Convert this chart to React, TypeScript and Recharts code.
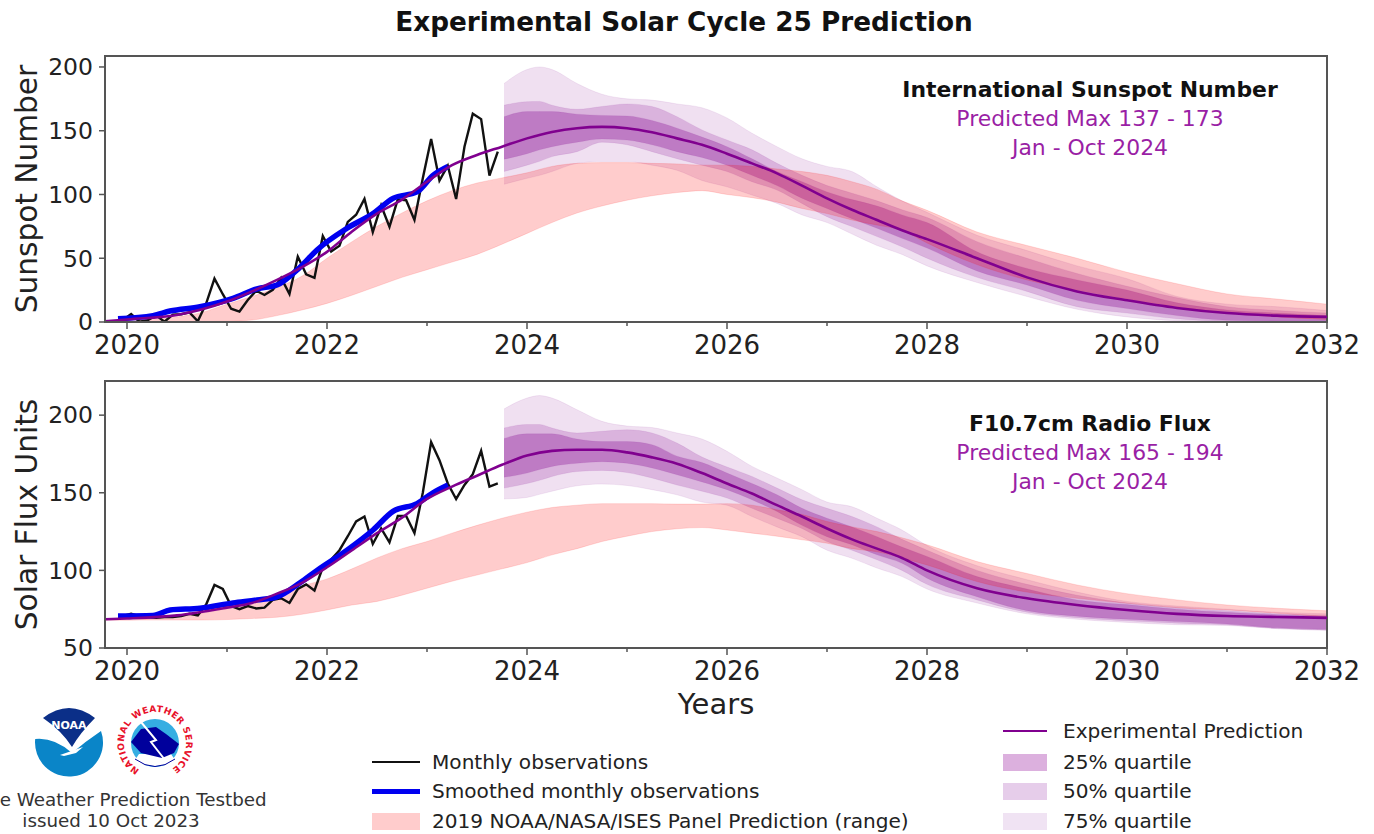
import { Area, ComposedChart, Line, ReferenceArea, XAxis, YAxis } from 'recharts'

const font = '"DejaVu Sans", sans-serif'
const purple = '#80008f'
const spine = '#555'

const xStart = 2019.78
const xEnd = 2032
const yearTicks = [2020, 2021, 2022, 2023, 2024, 2025, 2026, 2027, 2028, 2029, 2030, 2031, 2032]

// monthly observations, Dec 2019 to Sep 2023
const firstObsYear = 2019.958
const sunspotObs = [1.5, 6.2, 0.2, 1.5, 5.2, 0.2, 5.8, 6.1, 7.5, 0.6, 14.4, 34, 21.8, 10.4, 8.2, 17.2, 24.5, 21.2, 25.2, 34.6, 22, 51.3, 37.4, 34.7, 67.5, 55.3, 59.9, 78.5, 84.1, 96.5, 70.6, 91.4, 74.6, 96.2, 95.5, 80, 112.8, 143.6, 110.9, 122.6, 96.4, 137.4, 163.4, 159.1, 114.8, 133.6]
const fluxObs = [70.7, 72, 70.5, 70, 69.5, 70, 70, 70.5, 72, 71, 78, 90.6, 88, 77, 75, 77, 75.5, 76, 81, 82, 79, 88, 91, 87, 102, 107, 113, 122, 131.5, 134.7, 117, 127, 118, 135, 135, 124, 150, 182.6, 171, 156, 146, 155, 162, 177, 154, 156]

const smoothYears = [2019.91, 2020.26, 2020.43, 2020.73, 2021.06, 2021.3, 2021.5, 2021.73, 2021.9, 2022.2, 2022.46, 2022.66, 2022.9, 2023.06, 2023.21]
const sunspotSmooth = [2.6, 5, 8.6, 12, 18.6, 26, 29, 43, 56.5, 73.5, 85, 97, 102, 115, 122]
const fluxSmooth = [70.6, 71, 74.5, 75.6, 79, 81, 83, 92, 100, 113, 126, 138, 143, 150, 155]

const predYears = [2019.78, 2020, 2020.5, 2021, 2021.25, 2021.5, 2021.75, 2022, 2022.25, 2022.5, 2022.75, 2023, 2023.25, 2023.5, 2023.75, 2024, 2024.25, 2024.5, 2024.75, 2025, 2025.25, 2025.5, 2025.75, 2026, 2026.25, 2026.5, 2026.75, 2027, 2027.25, 2027.5, 2027.75, 2028, 2028.5, 2029, 2029.5, 2030, 2030.5, 2031, 2031.5, 2032]
const sunspotPred = [0.5, 2, 5.5, 16, 24, 33, 43, 55, 71, 85, 96, 110, 123, 131, 137.5, 144, 149, 152, 153, 152, 148.8, 144, 139, 132, 124.4, 116.6, 107, 97, 88, 80, 72, 65, 50, 35, 24, 17, 11, 7, 5, 4]
const fluxPred = [68.5, 69, 71, 76, 79, 85, 92, 102, 113, 124, 134, 146, 154, 161, 168, 174, 177, 177.7, 177.7, 176, 172.8, 168.7, 162.7, 156, 149.5, 142, 134.7, 127, 120, 114, 108, 100, 88.5, 82, 77.7, 74.5, 72, 70.6, 70, 69.4]

const panelYears = [2019.78, 2020, 2020.25, 2020.5, 2020.75, 2021, 2021.25, 2021.5, 2021.75, 2022, 2022.25, 2022.5, 2022.75, 2023, 2023.25, 2023.5, 2023.75, 2024, 2024.25, 2024.5, 2024.75, 2025, 2025.25, 2025.5, 2025.75, 2026, 2026.25, 2026.5, 2026.75, 2027, 2027.25, 2027.5, 2027.75, 2028, 2028.5, 2029, 2029.5, 2030, 2030.5, 2031, 2031.5, 2032]
const sunspotPanelHi = [0, 1, 2, 4, 7.5, 14, 20, 27, 36, 50, 63, 75, 85.5, 95, 103, 109, 113, 117, 122, 124.4, 125, 125, 124.4, 124, 123, 123, 122, 120, 118, 115, 110, 104, 95, 87.6, 70.6, 60, 50, 39, 30, 22, 18, 14]
const sunspotPanelLo = [0, 0, 0, 0, 0.3, 0.5, 1.5, 5, 9.4, 14.6, 21, 28, 35, 41, 47, 53, 61, 69.5, 78, 85.5, 91, 95.5, 99, 101.5, 103, 100, 97.5, 94, 89, 85, 80, 76, 72, 62, 45, 33, 25, 18, 12, 7, 4, 2]
const fluxPanelHi = [68, 68, 69, 70.5, 72.5, 75.5, 79, 84, 90, 94.5, 101, 108, 114, 118.6, 124, 129, 133.6, 137.5, 140.5, 142, 143, 143, 143, 142.7, 142.7, 143, 142, 139, 136, 131.5, 128, 125, 121, 116.5, 105.7, 98, 90.6, 85, 81, 77.7, 75.6, 74]
const fluxPanelLo = [68, 68, 68, 68, 68, 68.3, 69, 69.8, 71.7, 74.5, 77.7, 80, 84, 88.5, 93, 97, 101, 105, 110, 114, 118.6, 122, 125, 126.8, 127.6, 126, 124, 122, 119.7, 117.5, 114, 112, 108, 103.5, 92.8, 86, 82, 78.8, 76, 74.5, 72.4, 70]

const bandYears = [2023.77, 2024, 2024.125, 2024.25, 2024.5, 2024.75, 2025, 2025.25, 2025.5, 2025.75, 2026, 2026.25, 2026.5, 2026.75, 2027, 2027.25, 2027.5, 2027.75, 2028, 2028.5, 2029, 2029.5, 2030, 2030.5, 2031, 2031.5, 2032]
const sunspotQ75Hi = [187, 198, 200, 198, 187, 178.6, 175, 174, 171, 168, 160, 148, 137.5, 128, 122, 118, 106, 95, 86, 68, 56, 44, 34, 20, 14, 12, 9]
const sunspotQ75Lo = [108, 112.7, 115, 118, 124.4, 125.8, 125.8, 123, 119, 111, 106, 99.6, 93, 84, 78, 69, 60, 53, 44, 31, 20, 10, 4, 1, 0, 0, 0]
const sunspotQ50Hi = [170, 172.8, 173, 170, 166.8, 169, 171, 169, 161, 150.6, 142.7, 135, 124.4, 115, 107, 101, 95, 88, 82, 63, 50, 38, 28, 19, 12, 9, 7]
const sunspotQ50Lo = [118, 123, 126, 129.7, 133.6, 141, 139, 133.6, 128, 123, 118, 110, 103.5, 93, 82.6, 74.8, 67, 59, 50, 35, 24, 12, 7, 2.5, 0.5, 0.3, 0.3]
const sunspotQ25Hi = [161, 165, 165, 165, 163, 162, 161.6, 158, 152, 145, 137.5, 128, 118, 110, 102, 96, 91, 84, 78, 55, 42, 33, 25, 15, 9.5, 7, 5]
const sunspotQ25Lo = [127.6, 132, 135, 137.5, 141, 143.5, 142.7, 139, 133.6, 129, 123, 115, 107, 97, 89, 81, 73.5, 65.6, 58, 40, 29, 17, 10.5, 5, 1.3, 0.8, 0.8]
const fluxQ75Hi = [204, 211, 212.6, 211, 203.5, 196, 193, 192, 188.5, 184.6, 176.7, 167, 159.5, 152, 144, 141, 133.6, 126, 116, 103, 94, 86, 80, 77, 75, 73, 72]
const fluxQ75Lo = [146, 147, 149, 151, 154.5, 155.6, 154.7, 152, 148.7, 144, 142, 134.7, 128, 121.7, 113, 107.8, 101.5, 96, 88, 79, 72, 68.5, 66.5, 65, 64.5, 62.5, 61.5]
const fluxQ50Hi = [191.7, 194, 194, 191.7, 188.5, 189.6, 190.6, 188.5, 182, 173, 166.6, 160.5, 153, 145.5, 140, 134.7, 128, 120, 113, 100, 91, 84, 79, 76, 74, 72, 71]
const fluxQ50Lo = [153, 156, 158, 160.5, 163.7, 164.4, 163, 159.5, 155, 151, 146.6, 140, 133.6, 127, 118.6, 113, 106.8, 100, 91, 81, 73, 69.5, 67.5, 66, 65, 62.5, 61.5]
const fluxQ25Hi = [185, 188, 188, 188, 184.6, 183, 183, 181, 173.6, 169.5, 162.7, 156, 148.7, 140, 133.6, 128, 121.7, 115, 109, 96, 88, 81, 78, 75, 73, 71.5, 70.5]
const fluxQ25Lo = [160, 162.7, 165, 167, 169, 170, 169, 166, 161.6, 157, 152, 145.5, 138, 129, 121.7, 116.5, 110, 104.6, 95, 83, 74, 70.5, 68.5, 67, 65.5, 63, 62]

const points = (xs: number[], ys: number[]) => xs.map((x, i) => ({ x, y: ys[i] }))
const bands = (xs: number[], lo: number[], hi: number[]) => xs.map((x, i) => ({ x, range: [lo[i], hi[i]] }))
const monthly = (ys: number[]) => ys.map((y, i) => ({ x: firstObsYear + i / 12, y }))

const YearTick = ({ x, y, payload }: any) => {
  const major = payload.value % 2 === 0
  return (
    <g>
      <line x1={x} x2={x} y1={y} y2={y + (major ? 7 : 4)} stroke={spine} strokeWidth={1.5} />
      {major && (
        <text x={x} y={y + 32} textAnchor="middle" fontSize={26} fontFamily={font} fill="#222">
          {payload.value}
        </text>
      )}
    </g>
  )
}

type PanelProps = {
  yDomain: number[]
  yTicks: number[]
  yLabel: string
  height: number
  margin: { top: number; right: number; left: number; bottom: number }
  xHeight: number
  xLabel?: string
  obs: number[]
  smooth: number[]
  pred: number[]
  panelLo: number[]
  panelHi: number[]
  q75: number[][]
  q50: number[][]
  q25: number[][]
}

function Panel(p: PanelProps) {
  return (
    <ComposedChart width={1374} height={p.height} margin={p.margin}>
      <XAxis
        dataKey="x"
        type="number"
        domain={[xStart, xEnd]}
        ticks={yearTicks}
        interval={0}
        allowDataOverflow
        height={p.xHeight}
        axisLine={{ stroke: spine, strokeWidth: 2 }}
        tickLine={false}
        tickSize={0}
        tickMargin={0}
        tick={<YearTick />}
        label={p.xLabel ? { value: p.xLabel, position: 'insideBottom', offset: 26, fontSize: 29, fontFamily: font, fill: '#222' } : undefined}
      />
      <YAxis
        dataKey="y"
        type="number"
        domain={p.yDomain}
        ticks={p.yTicks}
        interval={0}
        allowDataOverflow
        width={105}
        axisLine={{ stroke: spine, strokeWidth: 2 }}
        tickLine={{ stroke: spine, strokeWidth: 1.5 }}
        tickSize={6}
        tickMargin={6}
        tick={{ fontSize: 23.5, fontFamily: font, fill: '#222' }}
        label={{ value: p.yLabel, angle: -90, position: 'insideLeft', offset: 26, fontSize: 29.6, fontFamily: font, fill: '#222', style: { textAnchor: 'middle' } }}
      />
      <Area data={bands(bandYears, p.q75[0], p.q75[1])} dataKey="range" type="monotone" fill={purple} fillOpacity={0.12} stroke={purple} strokeOpacity={0.08} isAnimationActive={false} dot={false} activeDot={false} />
      <Area data={bands(bandYears, p.q50[0], p.q50[1])} dataKey="range" type="monotone" fill={purple} fillOpacity={0.2} stroke={purple} strokeOpacity={0.08} isAnimationActive={false} dot={false} activeDot={false} />
      <Area data={bands(bandYears, p.q25[0], p.q25[1])} dataKey="range" type="monotone" fill={purple} fillOpacity={0.31} stroke={purple} strokeOpacity={0.08} isAnimationActive={false} dot={false} activeDot={false} />
      <Area data={bands(panelYears, p.panelLo, p.panelHi)} dataKey="range" type="monotone" fill="#ff0000" fillOpacity={0.2} stroke="#ff0000" strokeOpacity={0.12} isAnimationActive={false} dot={false} activeDot={false} />
      <Line data={monthly(p.obs)} dataKey="y" stroke="#111" strokeWidth={2.4} dot={false} activeDot={false} isAnimationActive={false} />
      <Line data={points(smoothYears, p.smooth)} dataKey="y" type="monotone" stroke="#0000f0" strokeWidth={5.5} dot={false} activeDot={false} isAnimationActive={false} />
      <Line data={points(predYears, p.pred)} dataKey="y" type="monotone" stroke={purple} strokeWidth={2.6} dot={false} activeDot={false} isAnimationActive={false} />
      <ReferenceArea x1={xStart} x2={xEnd} y1={p.yDomain[0]} y2={p.yDomain[1]} fill="none" stroke={spine} strokeWidth={2} ifOverflow="visible" />
    </ComposedChart>
  )
}

const place = (left: number, top: number, extra: object = {}) => ({
  position: 'absolute' as const,
  left,
  top,
  fontFamily: font,
  whiteSpace: 'nowrap' as const,
  ...extra,
})

function Note({ center, top, title, max }: { center: number; top: number; title: string; max: string }) {
  const lines = [
    { text: title, color: '#111', weight: 700, y: top },
    { text: max, color: '#9a1fa5', weight: 400, y: top + 29 },
    { text: 'Jan - Oct 2024', color: '#9a1fa5', weight: 400, y: top + 58 },
  ]
  return (
    <>
      {lines.map((l) => (
        <div key={l.text} style={place(center - 300, l.y, { width: 600, textAlign: 'center', fontSize: 21.9, lineHeight: '26px', color: l.color, fontWeight: l.weight })}>
          {l.text}
        </div>
      ))}
    </>
  )
}

function LegendRow({ x, y, label, kind, color, w }: { x: number; y: number; label: string; kind: 'line' | 'box'; color: string; w: number }) {
  const swatch = kind === 'line' ? { height: w, top: y - w / 2, background: color } : { height: 17, top: y - 8.5, background: color }
  const left = label.includes('quartile') || label.includes('Experimental') ? 1003 : 372
  const width = left === 1003 ? 44 : 48
  return (
    <>
      <div style={{ position: 'absolute', left, width, ...swatch }} />
      <div style={place(x, y - 13, { fontSize: 20.1, lineHeight: '26px', color: '#222' })}>{label}</div>
    </>
  )
}

function NoaaLogo() {
  return (
    <svg style={{ position: 'absolute', left: 30, top: 703 }} width={80} height={78} viewBox="0 0 80 78">
      <path d="M5.2 36 Q24 34 42 50 Q56 38 71 28 A34 34 0 1 1 5.2 36 Z" fill="#0a85c8" />
      <path d="M13 15 Q39 -5 65 15 Q50 30 42 44 Q32 28 13 15 Z" fill="#0b2f88" />
      <path d="M30 52 L53 44 L46 50 L34 53 Z" fill="#fff" />
      <text x={39} y={26} textAnchor="middle" fontSize={11} fontWeight={700} fontFamily={font} fill="#fff">NOAA</text>
    </svg>
  )
}

function NwsLogo() {
  return (
    <svg style={{ position: 'absolute', left: 114, top: 702 }} width={82} height={82} viewBox="0 0 82 82">
      <defs>
        <path id="nwsRing" d="M25.5 67.8 A31 31 0 1 1 56.5 67.8" />
      </defs>
      <text fontSize={9} fontWeight={700} fontFamily={font} fill="#e8102a">
        <textPath href="#nwsRing" textLength={160} lengthAdjust="spacing">NATIONAL WEATHER SERVICE</textPath>
      </text>
      <circle cx={41} cy={41} r={24} fill="#35aee2" />
      <path d="M21 58 Q41 70 61 58 L57 52 L25 52 Z" fill="#fff" />
      <path d="M17 40 L27 27 L42 25 L52 32 L65 42 L60 51 L48 56 L27 51 Z" fill="#00009c" />
      <path d="M27 20 L42 38 L37 40 L51 58" fill="none" stroke="#fff" strokeWidth={2} />
      <path d="M21 57 Q41 72 61 57" fill="none" stroke="#00009c" strokeWidth={1} />
    </svg>
  )
}

export default function App() {
  return (
    <div style={{ position: 'absolute', left: 0, top: 0, width: 1374, height: 834, background: '#fff', overflow: 'hidden' }}>
      <div style={place(0, 7, { width: 1368, textAlign: 'center', fontSize: 26.3, lineHeight: '30px', fontWeight: 700, color: '#111' })}>
        Experimental Solar Cycle 25 Prediction
      </div>
      <div style={{ position: 'absolute', left: 0, top: 0 }}>
        <Panel
          height={380}
          margin={{ top: 56, right: 47, left: 0, bottom: 0 }}
          xHeight={58}
          yDomain={[0, 208.6]}
          yTicks={[0, 50, 100, 150, 200]}
          yLabel="Sunspot Number"
          obs={sunspotObs}
          smooth={sunspotSmooth}
          pred={sunspotPred}
          panelLo={sunspotPanelLo}
          panelHi={sunspotPanelHi}
          q75={[sunspotQ75Lo, sunspotQ75Hi]}
          q50={[sunspotQ50Lo, sunspotQ50Hi]}
          q25={[sunspotQ25Lo, sunspotQ25Hi]}
        />
      </div>
      <div style={{ position: 'absolute', left: 0, top: 330 }}>
        <Panel
          height={410}
          margin={{ top: 51, right: 47, left: 0, bottom: 0 }}
          xHeight={92}
          xLabel="Years"
          yDomain={[50, 222]}
          yTicks={[50, 100, 150, 200]}
          yLabel="Solar Flux Units"
          obs={fluxObs}
          smooth={fluxSmooth}
          pred={fluxPred}
          panelLo={fluxPanelLo}
          panelHi={fluxPanelHi}
          q75={[fluxQ75Lo, fluxQ75Hi]}
          q50={[fluxQ50Lo, fluxQ50Hi]}
          q25={[fluxQ25Lo, fluxQ25Hi]}
        />
      </div>
      <Note center={1090} top={77} title="International Sunspot Number" max="Predicted Max 137 - 173" />
      <Note center={1090} top={411} title="F10.7cm Radio Flux" max="Predicted Max 165 - 194" />

      <NoaaLogo />
      <NwsLogo />
      <div style={place(-200, 789, { width: 622, textAlign: 'center', fontSize: 18.3, lineHeight: '22px', color: '#333' })}>Space Weather Prediction Testbed</div>
      <div style={place(-200, 810, { width: 622, textAlign: 'center', fontSize: 18.3, lineHeight: '22px', color: '#333' })}>issued 10 Oct 2023</div>

      <LegendRow x={432} y={762} label="Monthly observations" kind="line" color="#111" w={2} />
      <LegendRow x={432} y={791} label="Smoothed monthly observations" kind="line" color="#0000f0" w={5} />
      <LegendRow x={432} y={821} label="2019 NOAA/NASA/ISES Panel Prediction (range)" kind="box" color="#ffcccc" w={0} />
      <LegendRow x={1063} y={731} label="Experimental Prediction" kind="line" color={purple} w={2} />
      <LegendRow x={1063} y={762} label="25% quartile" kind="box" color="#dcb0de" w={0} />
      <LegendRow x={1063} y={791} label="50% quartile" kind="box" color="#e6cdea" w={0} />
      <LegendRow x={1063} y={821} label="75% quartile" kind="box" color="#f0e3f3" w={0} />
    </div>
  )
}
